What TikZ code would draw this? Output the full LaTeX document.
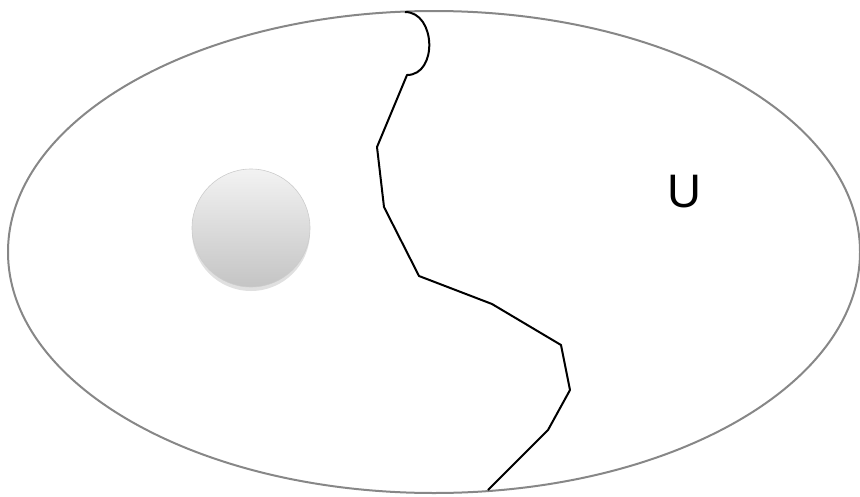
\documentclass[tikz,border=0pt]{standalone}
\usepackage{fontspec}
\setmainfont{Liberation Sans}
\usepackage{tikz}
\usetikzlibrary{shadows}
\tikzset{%
  rim/.style={draw=black!47,line width=2pt},
  crack/.style={draw=black,line width=2pt,line join=round},
  ball/.style={circle,minimum size=118pt,inner sep=0pt,draw=black!20,line width=0.6pt,
    top color=black!5,bottom color=black!23,
    drop shadow={shadow xshift=0pt,shadow yshift=-4pt,opacity=0.2,fill=black!60}}%
}

\begin{document}
\begin{tikzpicture}[x=1pt,y=-1pt]
\useasboundingbox (0,0) rectangle (860,496);

% outer region
\draw[rim] (434,252) ellipse [x radius=426,y radius=241];

% ball and label
\node[ball] (ball) at (251,228) {};
\node[font=\fontsize{47}{50}\selectfont] (u) at (684,192) {U};

% dividing line
\coordinate (top) at (405,12);
\coordinate (c1) at (407,75);
\coordinate (c2) at (377,147);
\coordinate (c3) at (384,207);
\coordinate (c4) at (419,276);
\coordinate (c5) at (492,304);
\coordinate (c6) at (561,345);
\coordinate (c7) at (570,390);
\coordinate (c8) at (548,430);
\coordinate (bot) at (488,490);
\draw[crack] (top) .. controls (436,12) and (438,75) .. (c1)
  -- (c2) -- (c3) -- (c4) -- (c5) -- (c6) -- (c7) -- (c8) -- (bot);

\end{tikzpicture}
\end{document}
